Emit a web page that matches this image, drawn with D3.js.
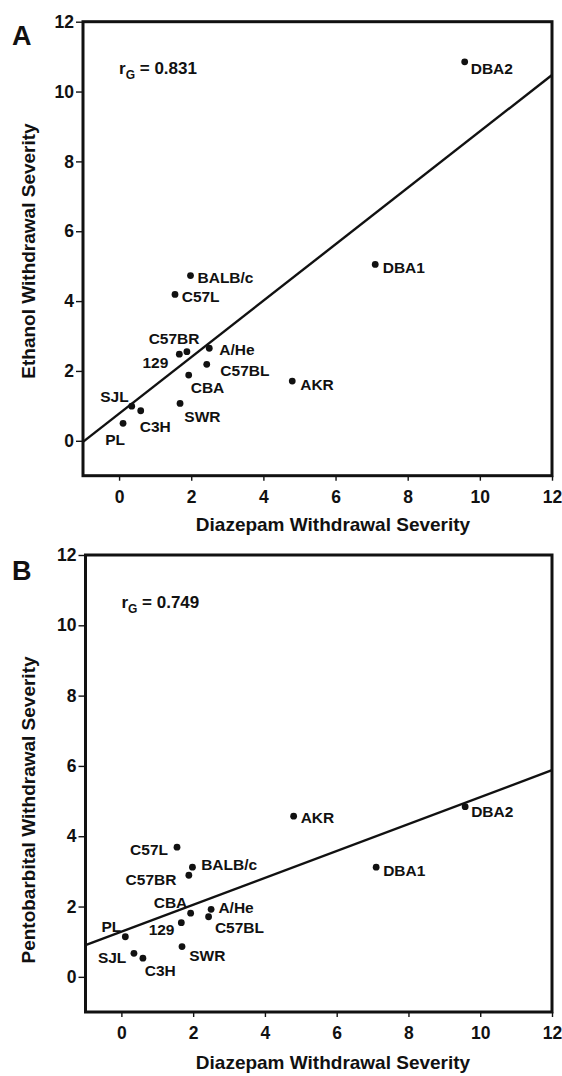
<!DOCTYPE html>
<html>
<head>
<meta charset="utf-8">
<script src="https://cdn.jsdelivr.net/npm/d3@7"></script>
<style>
  html, body { margin: 0; padding: 0; background: #fff; }
  svg { display: block; font-family: "Liberation Sans", Arial, Helvetica, sans-serif; font-weight: bold; }
</style>
</head>
<body>
<svg id="chart" width="562" height="1076"></svg>
<script>
// ---- data ----
const strains       = ["DBA2", "DBA1", "BALB/c", "C57L", "C57BR", "129", "A/He", "C57BL", "CBA", "AKR", "SJL", "C3H", "PL", "SWR"];
const diazepam      = [9.58, 7.10, 1.98, 1.55, 1.88, 1.67, 2.50, 2.43, 1.93, 4.80, 0.35, 0.60, 0.11, 1.69];
const ethanol       = [10.85, 5.05, 4.73, 4.19, 2.55, 2.48, 2.65, 2.19, 1.88, 1.71, 0.99, 0.86, 0.50, 1.07];
const pentobarbital = [4.84, 3.12, 3.12, 3.69, 2.89, 1.54, 1.92, 1.71, 1.81, 4.57, 0.67, 0.53, 1.14, 0.86];
const xTicks = [0, 2, 4, 6, 8, 10, 12];
const yTicks = [0, 2, 4, 6, 8, 10, 12];
const xDomain = [-1, 12];
const yDomain = [-1, 12];
const fitEthanol = { intercept: 0.778, slope: 0.808 };
const fitPento   = { intercept: 1.283, slope: 0.383 };
const rEthanol = "0.831";
const rPento   = "0.749";
const xTitle = "Diazepam Withdrawal Severity";

// ---- layout (label placement: anchor, dx, dy relative to the dot) ----
const labelsA = {
  "DBA2": ["start", 6, 12], "DBA1": ["start", 7.5, 9], "BALB/c": ["start", 7, 7.6],
  "C57L": ["start", 6.7, 7.4], "C57BR": ["end", 12.6, -7.4], "129": ["end", -11, 13.4],
  "A/He": ["start", 10, 6.7], "C57BL": ["start", 13.6, 11.4], "CBA": ["start", 2, 17.7],
  "AKR": ["start", 8, 9], "SJL": ["end", -3, -4.3], "C3H": ["start", -1, 21],
  "PL": ["end", 2, 21.7], "SWR": ["start", 4.3, 18.4]
};
const labelsB = {
  "DBA2": ["start", 6, 10], "DBA1": ["start", 7, 9], "BALB/c": ["start", 8.7, 2.7],
  "C57L": ["end", -9, 8], "C57BR": ["end", -12.4, 9.7], "129": ["end", -6.8, 12.3],
  "A/He": ["start", 7.3, 4], "C57BL": ["start", 6.3, 16.6], "CBA": ["end", -3.3, -5.6],
  "AKR": ["start", 7, 7.3], "SJL": ["end", -7.6, 10], "C3H": ["start", 1.8, 17.7],
  "PL": ["end", -4, -5], "SWR": ["start", 7.2, 14.3]
};

const panels = [
  { letter: "A", left: 83, right: 552, top: 21.7, bottom: 475.7, yVals: ethanol, fit: fitEthanol, r: rEthanol,
    yTitle: "Ethanol Withdrawal Severity", yTitleCY: 251, labels: labelsA, letterY: 45, xTitleY: 531 },
  { letter: "B", left: 85.5, right: 552, top: 555, bottom: 1012, yVals: pentobarbital, fit: fitPento, r: rPento,
    yTitle: "Pentobarbital Withdrawal Severity", yTitleCY: 810, labels: labelsB, letterY: 580, xTitleY: 1069 }
];

const svg = d3.select("#chart");
const ink = "#111";

panels.forEach(p => {
  const x = d3.scaleLinear().domain(xDomain).range([p.left, p.right]);
  const y = d3.scaleLinear().domain(yDomain).range([p.bottom, p.top]);
  const g = svg.append("g");

  // y axis ticks
  const ya = g.append("g").attr("transform", `translate(${p.left},0)`)
    .call(d3.axisLeft(y).tickValues(yTicks).tickSize(7).tickPadding(2).tickFormat(d3.format("d")));
  ya.select(".domain").remove();
  ya.selectAll("line").attr("stroke", ink).attr("stroke-width", 1.4);
  ya.selectAll("text").attr("fill", ink).style("font-size", "17.5px").style("font-weight", "bold")
    .style("font-family", "'Liberation Sans', Arial, sans-serif");

  // x axis ticks
  const xa = g.append("g").attr("transform", `translate(0,${p.bottom})`)
    .call(d3.axisBottom(x).tickValues(xTicks).tickSize(5).tickPadding(10).tickFormat(d3.format("d")));
  xa.select(".domain").remove();
  xa.selectAll("line").attr("stroke", ink).attr("stroke-width", 1.4);
  xa.selectAll("text").attr("fill", ink).style("font-size", "17.5px").style("font-weight", "bold")
    .style("font-family", "'Liberation Sans', Arial, sans-serif");

  // box
  g.append("rect").attr("x", p.left).attr("y", p.top)
    .attr("width", p.right - p.left).attr("height", p.bottom - p.top)
    .attr("fill", "none").attr("stroke", ink).attr("stroke-width", 3);

  // regression line
  const x0 = xDomain[0], x1 = xDomain[1];
  g.append("line")
    .attr("x1", x(x0)).attr("y1", y(p.fit.intercept + p.fit.slope * x0))
    .attr("x2", x(x1)).attr("y2", y(p.fit.intercept + p.fit.slope * x1))
    .attr("stroke", ink).attr("stroke-width", 2.4);

  // points
  const pts = strains.map((s, i) => ({ s, dx: diazepam[i], v: p.yVals[i] }));
  g.selectAll("circle.pt").data(pts).enter().append("circle")
    .attr("class", "pt").attr("cx", d => x(d.dx)).attr("cy", d => y(d.v))
    .attr("r", 3.4).attr("fill", ink);

  g.selectAll("text.lab").data(pts).enter().append("text")
    .attr("class", "lab")
    .attr("x", d => x(d.dx) + p.labels[d.s][1])
    .attr("y", d => y(d.v) + p.labels[d.s][2])
    .attr("text-anchor", d => p.labels[d.s][0])
    .attr("fill", ink).style("font-size", "15.5px")
    .text(d => d.s);

  // r_G annotation
  const rt = g.append("text").attr("x", x(0)).attr("y", y(10.5)).attr("fill", ink).style("font-size", "17px");
  rt.append("tspan").text("r");
  rt.append("tspan").attr("dy", 5).style("font-size", "12px").text("G");
  rt.append("tspan").attr("dy", -5).text(" = " + p.r);

  // panel letter
  g.append("text").attr("x", 12).attr("y", p.letterY).attr("fill", ink)
    .style("font-size", "27px").text(p.letter);

  // y title
  g.append("text").attr("transform", `translate(35,${p.yTitleCY}) rotate(-90)`)
    .attr("text-anchor", "middle").attr("fill", ink).style("font-size", "19px").text(p.yTitle);

  // x title
  g.append("text").attr("x", 333).attr("y", p.xTitleY).attr("text-anchor", "middle")
    .attr("fill", ink).style("font-size", "19px").text(xTitle);
});
</script>
</body>
</html>
